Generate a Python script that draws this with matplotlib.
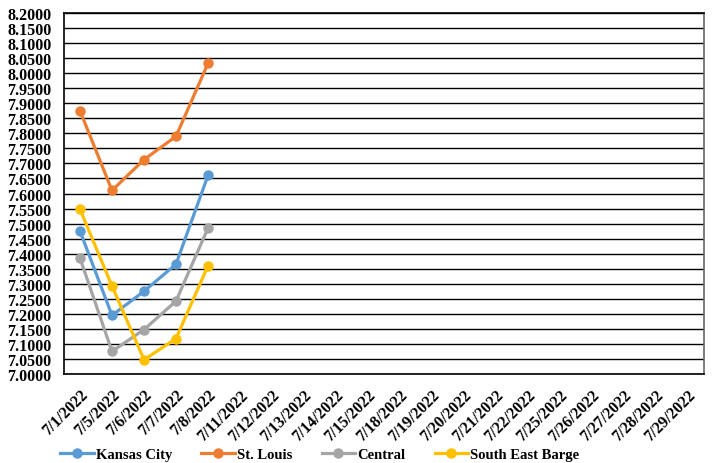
import matplotlib.pyplot as plt
import numpy as np

dates = ["7/1/2022", "7/5/2022", "7/6/2022", "7/7/2022", "7/8/2022", "7/11/2022",
         "7/12/2022", "7/13/2022", "7/14/2022", "7/15/2022", "7/18/2022", "7/19/2022",
         "7/20/2022", "7/21/2022", "7/22/2022", "7/25/2022", "7/26/2022", "7/27/2022",
         "7/28/2022", "7/29/2022"]

kansas_city = [7.4750, 7.1950, 7.2750, 7.3650, 7.6600]
st_louis = [7.8750, 7.6100, 7.7125, 7.7900, 8.0325]
central = [7.3850, 7.0750, 7.1475, 7.2425, 7.4850]
se_barge = [7.5475, 7.2925, 7.0475, 7.1175, 7.3600]

series = [("Kansas City", kansas_city, "#5B9BD5"),
          ("St. Louis", st_louis, "#ED7D31"),
          ("Central", central, "#A5A5A5"),
          ("South East Barge", se_barge, "#FFC000")]


def main():
    plt.rcParams['font.family'] = ['Liberation Serif', 'DejaVu Serif']
    plt.rcParams['font.weight'] = 'bold'

    fig = plt.figure(figsize=(7.15, 4.64), dpi=100)
    ax = fig.add_axes([64 / 715, 1 - 375 / 464, 640 / 715, 361 / 464])

    x = np.arange(len(dates))
    for name, vals, color in series:
        ax.plot(x[:len(vals)], vals, marker='o', markersize=6.5, linewidth=2.3,
                color=color, label=name)

    ax.set_xlim(-0.5, len(dates) - 0.5)
    ax.set_ylim(7.0, 8.2)
    yt = np.arange(7.0, 8.2001, 0.05)
    ax.set_yticks(yt)
    ax.set_yticklabels(["%.4f" % v for v in yt], fontsize=11.5, fontweight='bold')
    ax.set_xticks(x)
    ax.set_xticklabels(dates, rotation=45, ha='right', rotation_mode='anchor',
                       fontsize=11.5, fontweight='bold')
    ax.tick_params(axis='y', length=0, pad=9)
    ax.tick_params(axis='x', length=0, pad=9)
    ax.grid(True, axis='y', color='black', linewidth=1.0)
    ax.set_axisbelow(True)
    for s in ax.spines.values():
        s.set_color('black')
        s.set_linewidth(1.2)
    ax.spines['right'].set_color('#666666')

    fig.legend(loc='center left', bbox_to_anchor=(60 / 715, 1 - 455 / 464), ncol=4,
               frameon=False, borderaxespad=0, borderpad=0,
               prop={'family': 'Liberation Serif', 'weight': 'bold', 'size': 10.5},
               handlelength=2.3, handletextpad=0.15, columnspacing=2.0)

    fig.savefig("out.png", dpi=100)


if __name__ == '__main__':
    main()
